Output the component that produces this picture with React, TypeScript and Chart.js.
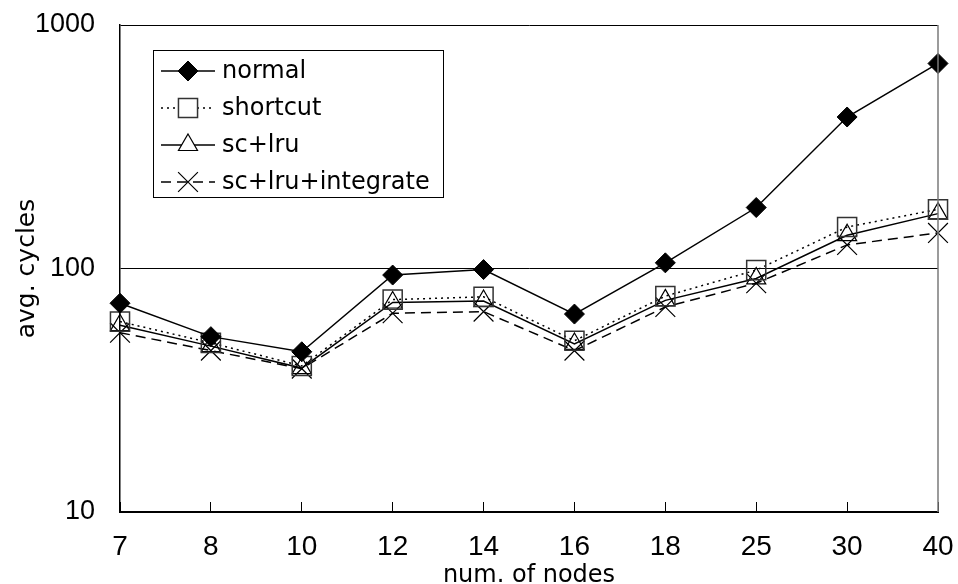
import React, { useEffect, useRef } from "react";
import { Chart, registerables } from "chart.js";
import { drawPoint } from "chart.js/helpers";

Chart.register(...registerables);

const categories = ["7", "8", "10", "12", "14", "16", "18", "25", "30", "40"];
const normal = [72, 52.5, 45.5, 94, 99, 65, 105.5, 178, 419, 695];
const shortcut = [60.5, 49.5, 39.8, 74.5, 76.5, 50.5, 77, 98.5, 148, 175];
const scLru = [58.5, 48, 39, 72.5, 73.5, 49, 74, 91, 137, 168];
const scLruIntegrate = [54.5, 46, 38.8, 65.5, 66.5, 46, 69.5, 87, 125, 140];
const yTicks = [10, 100, 1000];
const seriesNames = ["normal", "shortcut", "sc+lru", "sc+lru+integrate"];

const legendPlugin = {
  id: "boxLegend",
  afterDatasetsDraw(chart: any) {
    const { ctx, chartArea } = chart;
    const x0 = chartArea.left + 33;
    const y0 = chartArea.top + 25;
    const w = 290;
    const h = 147;
    ctx.save();
    ctx.fillStyle = "#ffffff";
    ctx.fillRect(x0, y0, w, h);
    ctx.strokeStyle = "#000";
    ctx.lineWidth = 1;
    ctx.strokeRect(x0 + 0.5, y0 + 0.5, w, h);
    chart.data.datasets.forEach((ds: any, i: number) => {
      const cy = y0 + 21 + i * 37;
      const lx0 = x0 + 8;
      const lx1 = x0 + 62;
      const mx = x0 + 35;
      ctx.save();
      ctx.strokeStyle = ds.borderColor;
      ctx.lineWidth = ds.borderWidth;
      ctx.setLineDash(ds.borderDash || []);
      ctx.beginPath();
      ctx.moveTo(lx0, cy);
      ctx.lineTo(lx1, cy);
      ctx.stroke();
      ctx.restore();
      ctx.save();
      ctx.fillStyle = ds.legendFill;
      ctx.strokeStyle = ds.pointBorderColor;
      ctx.lineWidth = ds.pointBorderWidth;
      drawPoint(ctx, { pointStyle: ds.pointStyle, radius: ds.pointRadius, rotation: 0, borderWidth: ds.pointBorderWidth } as any, mx, cy);
      ctx.restore();
      ctx.fillStyle = "#000";
      ctx.font = "24px 'DejaVu Sans'";
      ctx.textBaseline = "middle";
      ctx.textAlign = "left";
      ctx.fillText(ds.label, x0 + 69, cy + 1);
    });
    ctx.restore();
  },
};

const framePlugin = {
  id: "frame",
  afterDraw(chart: any) {
    const { ctx, chartArea } = chart;
    ctx.save();
    ctx.strokeStyle = "#7a7a7a";
    ctx.lineWidth = 1.5;
    ctx.beginPath();
    ctx.moveTo(chartArea.right, chartArea.top);
    ctx.lineTo(chartArea.right, chartArea.bottom);
    ctx.stroke();
    ctx.restore();
  },
};

export default function App() {
  const ref = useRef<HTMLCanvasElement>(null);
  useEffect(() => {
    document.body.style.margin = "0";
    const c = new Chart(ref.current as HTMLCanvasElement, {
      type: "line",
      data: {
        labels: categories,
        datasets: [
          {
            label: seriesNames[0],
            data: normal,
            borderColor: "#000",
            borderWidth: 1.5,
            pointStyle: "rectRot",
            pointRadius: 10,
            pointBackgroundColor: "#000",
            pointBorderColor: "#000",
            pointBorderWidth: 1,
            legendFill: "#000",
          } as any,
          {
            label: seriesNames[1],
            data: shortcut,
            borderColor: "#000",
            borderWidth: 1.5,
            borderDash: [2, 4],
            pointStyle: "rect",
            pointRadius: 13.5,
            pointBackgroundColor: "rgba(255,255,255,0)",
            pointBorderColor: "#333",
            pointBorderWidth: 1.5,
            legendFill: "#fff",
          } as any,
          {
            label: seriesNames[2],
            data: scLru,
            borderColor: "#000",
            borderWidth: 1.5,
            pointStyle: "triangle",
            pointRadius: 11,
            pointBackgroundColor: "rgba(255,255,255,0)",
            pointBorderColor: "#000",
            pointBorderWidth: 1.2,
            legendFill: "#fff",
          } as any,
          {
            label: seriesNames[3],
            data: scLruIntegrate,
            borderColor: "#000",
            borderWidth: 1.5,
            borderDash: [10, 6],
            pointStyle: "crossRot",
            pointRadius: 14,
            pointBackgroundColor: "rgba(255,255,255,0)",
            pointBorderColor: "#000",
            pointBorderWidth: 1.2,
            legendFill: "#fff",
          } as any,
        ],
      },
      options: {
        responsive: false,
        animation: false,
        devicePixelRatio: 1,
        layout: { padding: { top: 25, right: 20, left: 0, bottom: 0 } },
        plugins: { legend: { display: false }, tooltip: { enabled: false } },
        elements: { line: { tension: 0 } },
        scales: {
          x: {
            type: "category",
            offset: false,
            grid: {
              drawOnChartArea: false,
              drawTicks: true,
              tickLength: -10,
              color: "#000",
              lineWidth: 1,
            },
            border: { display: true, color: "#000", width: 2 },
            ticks: {
              color: "#000",
              padding: 28,
              maxRotation: 0,
              autoSkip: false,
              font: { family: "'Liberation Sans'", size: 28 },
            },
            title: {
              display: true,
              text: "num. of nodes",
              color: "#000",
              font: { family: "'DejaVu Sans'", size: 24, lineHeight: 0.7 },
              padding: { top: 0, bottom: 0 },
            },
            afterFit(scale: any) {
              scale.height = 72;
              scale.paddingLeft = 0;
              scale.paddingRight = 0;
              scale.paddingTop = 0;
              scale.paddingBottom = 0;
            },
          },
          y: {
            type: "logarithmic",
            min: 10,
            max: 1000,
            grid: { drawTicks: false, color: "#000", lineWidth: 1 },
            border: { display: true, color: "#000", width: 1.5 },
            afterBuildTicks(scale: any) {
              scale.ticks = yTicks.map((v) => ({ value: v }));
            },
            ticks: {
              color: "#000",
              padding: 25,
              font: { family: "'Liberation Sans'", size: 27 },
              callback: (v: any) => String(v),
            },
            title: {
              display: true,
              text: "avg. cycles",
              color: "#000",
              font: { family: "'DejaVu Sans'", size: 25 },
              padding: { top: 12, bottom: 0 },
            },
            afterFit(scale: any) {
              scale.width = 120;
              scale.paddingLeft = 0;
              scale.paddingRight = 0;
              scale.paddingTop = 0;
              scale.paddingBottom = 0;
            },
          },
        },
      } as any,
      plugins: [legendPlugin, framePlugin],
    });
    return () => c.destroy();
  }, []);
  return (
    <div style={{ width: 958, height: 584 }}>
      <canvas ref={ref} width={958} height={584} style={{ display: "block" }} />
    </div>
  );
}
